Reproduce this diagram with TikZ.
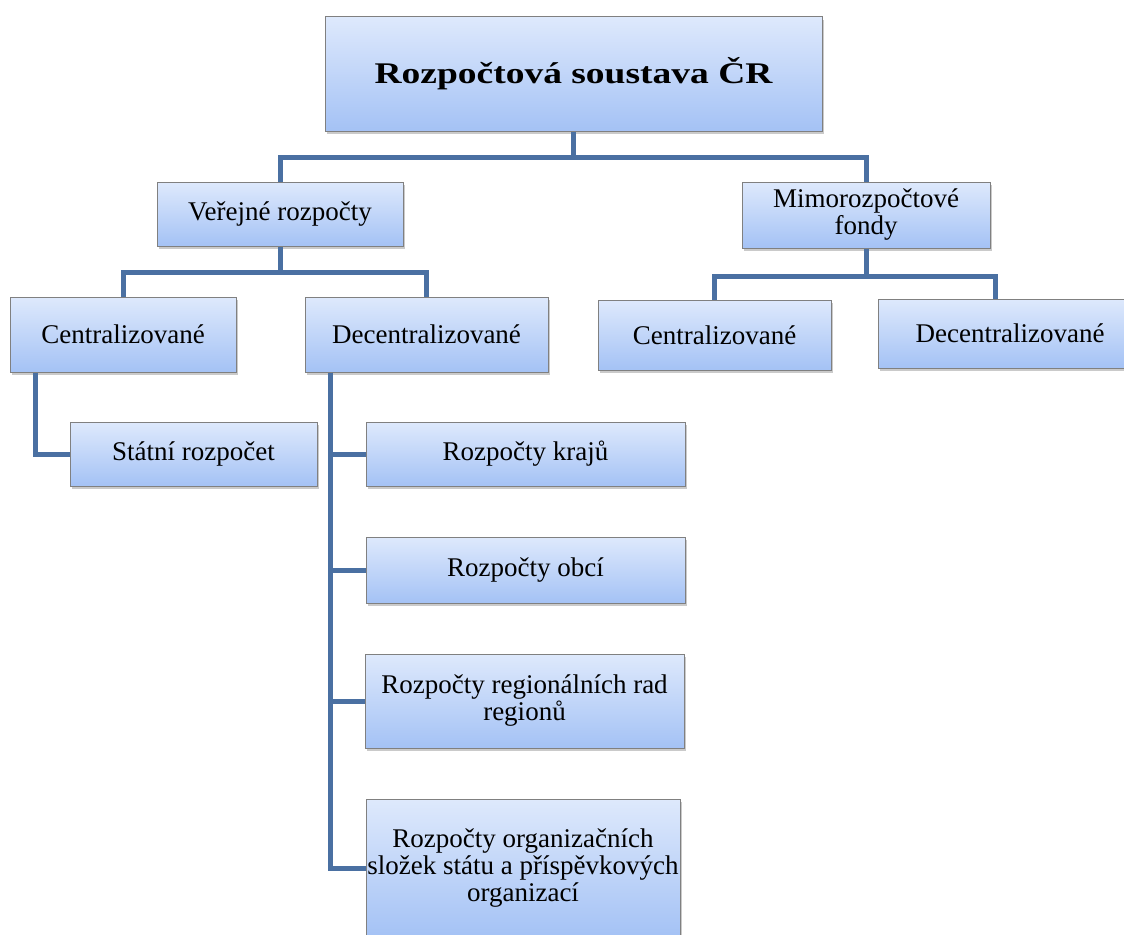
\documentclass[tikz,border=0pt]{standalone}
\usepackage{fontspec}
\setmainfont{Liberation Serif}
\newfontfamily\titlefont[FakeStretch=1.25]{Liberation Serif}
\usetikzlibrary{shadows}
\definecolor{conn}{RGB}{74,112,162}
\definecolor{boxtop}{RGB}{222,233,252}
\definecolor{boxbot}{RGB}{164,194,245}
\definecolor{boxline}{RGB}{128,128,128}
\tikzset{
  box/.style={draw=boxline, line width=1pt, top color=boxtop, bottom color=boxbot,
    drop shadow={shadow xshift=2pt, shadow yshift=-3pt, opacity=0.35, fill=black!60},
    align=center, inner sep=0pt, font=\fontsize{27}{27}\selectfont},
  link/.style={conn, line width=5pt, line join=miter}
}
\begin{document}
\begin{tikzpicture}[x=1pt,y=-1pt]
\useasboundingbox (0,0) rectangle (1124,934);
\coordinate (topbar) at (573.5,157);
\coordinate (verbar) at (280,272);
\coordinate (mimobar) at (866,276);
\node[box, minimum width=497pt, minimum height=114pt, font=\titlefont\fontsize{30}{32}\selectfont\bfseries] (top) at (573.5,74) {Rozpočtová soustava ČR};
\node[box, minimum width=246pt, minimum height=64pt] (ver) at (280,214) {Veřejné rozpočty};
\node[box, minimum width=248pt, minimum height=66pt] (mimo) at (866,215) {Mimorozpočtové\\fondy};
\node[box, minimum width=226pt, minimum height=75pt] (cenL) at (123,334.5) {Centralizované};
\node[box, minimum width=243pt, minimum height=75pt] (decL) at (426.5,334.5) {Decentralizované};
\node[box, minimum width=233pt, minimum height=70pt] (cenR) at (714.5,335) {Centralizované};
\node[box, minimum width=264pt, minimum height=69pt] (decR) at (1010,333.5) {Decentralizované};
\node[box, minimum width=247pt, minimum height=64pt] (stat) at (193.5,454) {Státní rozpočet};
\node[box, minimum width=319pt, minimum height=64pt] (kraj) at (525.5,454) {Rozpočty krajů};
\node[box, minimum width=319pt, minimum height=66pt] (obci) at (525.5,570) {Rozpočty obcí};
\node[box, minimum width=319pt, minimum height=94pt] (reg) at (524.5,701) {Rozpočty regionálních rad\\regionů};
\node[box, minimum width=314pt, minimum height=138pt] (org) at (523,868) {Rozpočty organizačních\\složek státu a příspěvkových\\organizací};
\coordinate (decRin) at ([xshift=-15pt]decR.north);
\coordinate (cenLout) at ([xshift=-88pt]cenL.south);
\coordinate (decLout) at ([xshift=-96.5pt]decL.south);
\draw[link] (top.south) -- (topbar) -| (ver.north);
\draw[link] (topbar) -| (mimo.north);
\draw[link] (ver.south) -- (verbar) -| (cenL.north);
\draw[link] (verbar) -| (decL.north);
\draw[link] (mimo.south) -- (mimobar) -| (cenR.north);
\draw[link] (mimobar) -| (decRin);
\draw[link] (cenLout) |- (stat.west);
\draw[link] (decLout) |- (org.west);
\draw[link] (decLout) |- (kraj.west);
\draw[link] (decLout) |- (obci.west);
\draw[link] (decLout) |- (reg.west);
\end{tikzpicture}
\end{document}
